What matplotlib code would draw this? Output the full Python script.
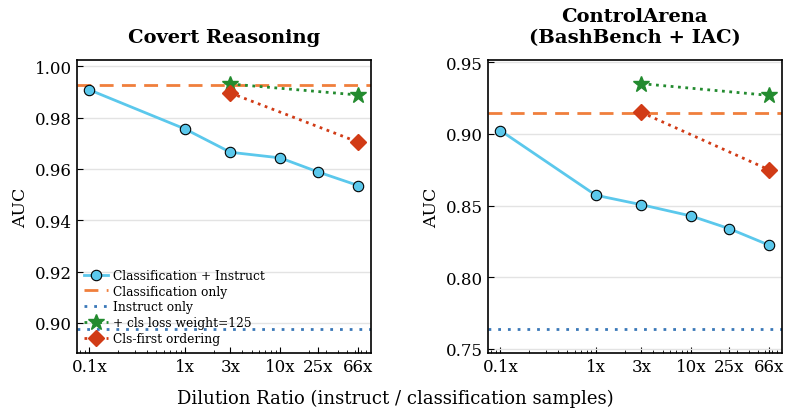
import matplotlib.pyplot as plt
import numpy as np

plt.rcParams['font.family'] = 'serif'
plt.rcParams['font.serif'] = ['DejaVu Serif']

# Data
ratios = [0.1, 1, 3, 10, 25, 66]
tick_labels = ["0.1x", "1x", "3x", "10x", "25x", "66x"]
ext_ratios = [3, 66]

covert_mixed = [0.9908, 0.9756, 0.9665, 0.9643, 0.9588, 0.9535]
covert_cls_only = 0.9927
covert_instruct_only = 0.8978
covert_weighted = [0.9931, 0.9888]
covert_cls_first = [0.9896, 0.9704]

control_mixed = [0.9023, 0.8572, 0.8506, 0.8427, 0.8339, 0.8223]
control_cls_only = 0.9146
control_instruct_only = 0.7636
control_weighted = [0.9350, 0.9268]
control_cls_first = [0.9150, 0.8748]

panels = [
    ("Covert Reasoning", covert_mixed, covert_cls_only, covert_instruct_only,
     covert_weighted, covert_cls_first, (0.8883, 1.0025), [0.90, 0.92, 0.94, 0.96, 0.98, 1.00]),
    ("ControlArena\n(BashBench + IAC)", control_mixed, control_cls_only, control_instruct_only,
     control_weighted, control_cls_first, (0.7472, 0.9516), [0.75, 0.80, 0.85, 0.90, 0.95]),
]

fig = plt.figure(figsize=(7.9, 4.14), dpi=100, facecolor='white')
axes = [fig.add_axes([0.0975, 0.145, 0.372, 0.708]),
        fig.add_axes([0.6177, 0.145, 0.372, 0.708])]

for i, (ax, p) in enumerate(zip(axes, panels)):
    title, mixed, cls_only, instr_only, weighted, cls_first, ylim, yticks = p
    ax.plot(ratios, mixed, '-o', color='#5bc8ec', lw=2, ms=7.5, mfc='#5bc8ec', mec='black', mew=0.8,
            label="Classification + Instruct", zorder=3)
    ax.axhline(cls_only, color='#f07f3c', ls=(0, (5, 3)), lw=2, label="Classification only")
    ax.axhline(instr_only, color='#3a78b8', ls=(0, (1, 2.5)), lw=2, label="Instruct only")
    ax.plot(ext_ratios, weighted, ':', marker='*', color='#238b2f', lw=2, ms=12,
            label="+ cls loss weight=125", zorder=4)
    ax.plot(ext_ratios, cls_first, ':', marker='D', color='#d13b16', lw=2, ms=8,
            label="Cls-first ordering", zorder=4)
    ax.set_xscale('log')
    ax.set_xlim(0.1 / 1.35, 66 * 1.35)
    ax.set_xticks(ratios)
    ax.set_xticklabels(tick_labels)
    ax.set_ylim(*ylim)
    ax.set_yticks(yticks)
    ax.set_yticklabels(["{:.2f}".format(v) for v in yticks])
    ax.grid(axis='y', color='#e3e3e3', lw=1)
    ax.set_axisbelow(True)
    ax.tick_params(which='both', direction='in', labelsize=12)
    ax.tick_params(which='major', length=4)
    ax.tick_params(which='minor', length=2.5)
    ax.set_ylabel("AUC", fontsize=12.5)
    ax.set_title(title, fontsize=14, fontweight='bold', pad=13, linespacing=1.2)
    for s in ax.spines.values():
        s.set_linewidth(1.2)
    if i == 0:
        ax.legend(loc='lower left', fontsize=8.8, frameon=False, handlelength=2,
                  labelspacing=0.22, borderaxespad=0.15, handletextpad=0.4,
                  bbox_to_anchor=(0.0, 0.005))

fig.text(0.5, 0.025, "Dilution Ratio (instruct / classification samples)", ha='center', fontsize=13)

plt.savefig("out.png", dpi=100)
